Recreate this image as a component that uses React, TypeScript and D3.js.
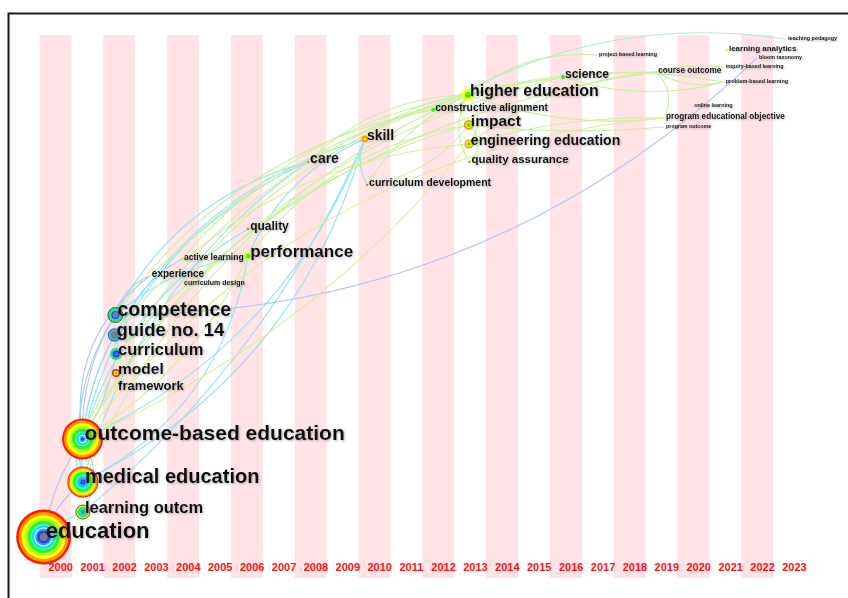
import React from 'react';
import * as d3 from 'd3';

const W = 848;
const H = 598;

const yearLabels = ['2000','2001','2002','2003','2004','2005','2006','2007','2008','2009','2010','2011','2012','2013','2014','2015','2016','2017','2018','2019','2020','2021','2022','2023'];

const nodeNames = [
  'education','learning outcm','medical education','outcome-based education','framework','model','curriculum','guide no. 14','competence',
  'experience','curriculum design','active learning','performance','quality','care','skill','curriculum development',
  'constructive alignment','higher education','impact','engineering education','quality assurance','science','project-based learning',
  'course outcome','program educational objective','program outcome','online learning','learning analytics','inquiry-based learning',
  'problem-based learning','bloom taxonomy','teaching pedagogy'
];
// first-appearance position on the time axis (fractional year inside its column)
const nodeYear = [
  2000.13, 2001.36, 2001.36, 2001.35, 2002.4, 2002.4, 2002.4, 2002.35, 2002.38,
  2003.46, 2004.47, 2004.47, 2006.54, 2006.54, 2008.42, 2010.2, 2010.27,
  2012.34, 2013.43, 2013.46, 2013.46, 2013.48, 2016.41, 2017.48,
  2019.33, 2019.58, 2019.58, 2020.46, 2021.55, 2021.45,
  2021.45, 2022.49, 2023.4
];
// vertical position (0 = bottom, 1 = top)
const nodeLevel = [
  0.0755, 0.1215, 0.1768, 0.256, 0.348, 0.3775, 0.4125, 0.4475, 0.4843,
  0.556, 0.5414, 0.5875, 0.593, 0.6427, 0.766, 0.8085, 0.7238,
  0.8625, 0.8895, 0.8343, 0.7993, 0.766, 0.9227, 0.9632,
  0.9319, 0.8471, 0.8306, 0.8692, 0.9724, 0.9411,
  0.9134, 0.9576, 0.9926
];
const nodeFont = [
  22, 16.5, 20, 21, 13, 15.5, 16.5, 18.5, 19.5,
  10, 7, 8.5, 17, 12, 14, 14, 10.5,
  10.3, 16, 15.5, 14, 11.5, 12, 5.4,
  8.2, 8.2, 5.3, 5.4, 8, 5.4,
  5.5, 5.4, 5.4
];
// citation-ring thickness per time slice, from centre outwards
const nodeRings = [
  'gray:4 blue:2.5 lblue:2 white:1 cyan:2 aqua:1.5 green:3 lime:3 yellow:3 orange:3 red:2.5',
  'gray:2 cyan:1.5 green:2 yellow:1.5 edge',
  'gray:1 blue:1.5 lblue:1.5 cyan:2 aqua:1.5 green:2.5 lime:1.5 yellow:1.5 orange:1.5 red:1',
  'blue:1.5 lblue:1.5 white:1 cyan:2 aqua:1.5 green:3 lime:2.5 yellow:3 orange:2.5 red:2',
  'yellow:1.5',
  'green:1.5 yellow:1 red:1.5',
  'purple:2 blue:1.5 cyan:1 green:1.5',
  'gray:3.5 lblue:1.2 cyan:1.5 edge',
  'gray:3 blue:1 cyan:1.5 green:2 edge',
  '',
  '',
  'lime:1.2',
  'green:2 lime:1 yellow:1',
  'olive:1.4',
  'olive:1.2',
  'yellow:1.5 orange:2',
  'olive:1.2',
  'green:2',
  'green:3 yellow:3',
  'green:2 yellow:1 orange:2',
  'green:2 yellow:1 orange:1.5',
  'olive:1.2',
  'green:2',
  '',
  '',
  '',
  '',
  '',
  'yellow:1.5',
  '',
  '',
  '',
  ''
];

const ringColors: Record<string, string> = {
  gray: '#7d7d7d', purple: '#6a5acd', blue: '#1f3fff', lblue: '#3fa0ff', white: '#eafff8', cyan: '#00e0ff',
  aqua: '#40ffb0', green: '#30ee30', lime: '#a8ff20', yellow: '#ffff00', orange: '#ff9900', red: '#ff1a00', olive: '#b09a20'
};

const linkColors: Record<string, string> = {
  blue: '#a8c6f6', cyan: '#8fe3f2', green: '#c9f0a0', aqua: '#a6f0cc', yg: '#d8ef98'
};

// co-occurrence links: [source, target, colour slice, bend]
const links: [string, string, string, number][] = [
  ['education', 'outcome-based education', 'blue', -0.12],
  ['education', 'medical education', 'blue', -0.15],
  ['education', 'learning outcm', 'cyan', -0.1],
  ['outcome-based education', 'competence', 'blue', -0.15],
  ['outcome-based education', 'guide no. 14', 'blue', -0.1],
  ['medical education', 'competence', 'blue', -0.2],
  ['medical education', 'guide no. 14', 'cyan', -0.15],
  ['outcome-based education', 'curriculum', 'blue', 0.1],
  ['medical education', 'outcome-based education', 'blue', -0.3],
  ['learning outcm', 'outcome-based education', 'cyan', 0.3],
  ['outcome-based education', 'experience', 'blue', -0.3],
  ['competence', 'experience', 'blue', -0.25],
  ['outcome-based education', 'care', 'cyan', -0.25],
  ['medical education', 'care', 'cyan', -0.18],
  ['outcome-based education', 'skill', 'cyan', 0.2],
  ['medical education', 'skill', 'cyan', 0.22],
  ['learning outcm', 'skill', 'cyan', 0.12],
  ['guide no. 14', 'skill', 'cyan', -0.2],
  ['competence', 'performance', 'cyan', -0.15],
  ['outcome-based education', 'performance', 'yg', 0.15],
  ['competence', 'care', 'cyan', -0.22],
  ['outcome-based education', 'quality', 'cyan', -0.2],
  ['curriculum', 'active learning', 'cyan', -0.25],
  ['skill', 'curriculum development', 'cyan', 0.25],
  ['performance', 'skill', 'cyan', -0.2],
  ['medical education', 'performance', 'cyan', 0.25],
  ['competence', 'bloom taxonomy', 'blue', 0.2],
  ['outcome-based education', 'higher education', 'green', -0.25],
  ['outcome-based education', 'impact', 'green', -0.22],
  ['outcome-based education', 'engineering education', 'yg', 0.12],
  ['medical education', 'higher education', 'green', -0.2],
  ['competence', 'constructive alignment', 'green', -0.2],
  ['outcome-based education', 'science', 'green', -0.22],
  ['curriculum', 'course outcome', 'green', -0.18],
  ['higher education', 'impact', 'green', 0.5],
  ['higher education', 'engineering education', 'green', -0.4],
  ['higher education', 'quality assurance', 'green', 0.3],
  ['higher education', 'curriculum development', 'green', 0.15],
  ['impact', 'curriculum development', 'green', -0.2],
  ['engineering education', 'course outcome', 'green', -0.15],
  ['course outcome', 'program educational objective', 'green', -0.35],
  ['higher education', 'problem-based learning', 'green', -0.12],
  ['science', 'problem-based learning', 'green', 0.15],
  ['higher education', 'project-based learning', 'green', -0.2],
  ['constructive alignment', 'teaching pedagogy', 'aqua', -0.18],
  ['higher education', 'program educational objective', 'green', 0.12],
  ['engineering education', 'program educational objective', 'green', -0.08],
  ['impact', 'program outcome', 'green', 0.05],
  ['care', 'higher education', 'green', -0.2],
  ['skill', 'higher education', 'green', -0.15],
  ['performance', 'impact', 'green', -0.2],
  ['guide no. 14', 'engineering education', 'yg', -0.22],
  ['outcome-based education', 'program educational objective', 'yg', -0.22],
  ['course outcome', 'inquiry-based learning', 'green', -0.1],
  ['course outcome', 'problem-based learning', 'green', 0.2],
  ['impact', 'quality assurance', 'green', -0.5],
  ['constructive alignment', 'higher education', 'green', 0.3],
  ['experience', 'course outcome', 'green', -0.2],
  ['active learning', 'higher education', 'green', -0.18],
  ['curriculum design', 'science', 'yg', -0.2]
];

const x = d3.scaleLinear().domain([2000, 2024]).range([39.5, 805.1]);
const y = d3.scaleLinear().domain([0, 1]).range([578, 35]);

function parseRings(spec: string) {
  const toks = spec.split(' ').filter(Boolean);
  const edge = toks.includes('edge');
  const rings = toks.filter(t => t !== 'edge').map(t => {
    const [c, v] = t.split(':');
    return { color: ringColors[c], w: +v };
  });
  return { rings, edge };
}

function linkPath(sx: number, sy: number, tx: number, ty: number, k: number) {
  const dx = tx - sx, dy = ty - sy;
  const L = Math.sqrt(dx * dx + dy * dy) || 1;
  const nx = -dy / L, ny = dx / L;
  const cx = (sx + tx) / 2 + k * L * nx;
  const cy = (sy + ty) / 2 + k * L * ny;
  const p = d3.path();
  p.moveTo(sx, sy);
  p.quadraticCurveTo(cx, cy, tx, ty);
  return p.toString();
}

export default function App() {
  const idx: Record<string, number> = {};
  nodeNames.forEach((n, i) => (idx[n] = i));
  const px = (i: number) => x(nodeYear[i]);
  const py = (i: number) => y(nodeLevel[i]);
  const font = "'Liberation Sans', Arial, Helvetica, sans-serif";

  return (
    <svg width={W} height={H} style={{ position: 'absolute', left: 0, top: 0, background: '#fff' }}>
      <defs>
        <filter id="sh" x="-10%" y="-30%" width="130%" height="180%">
          <feDropShadow dx="1" dy="1" stdDeviation="0.8" floodColor="#666" floodOpacity="0.5" />
        </filter>
      </defs>
      <rect x={0} y={0} width={W} height={H} fill="#fff" />
      {yearLabels.map((yl, i) =>
        i % 2 === 0 ? (
          <rect key={'s' + yl} x={x(+yl)} y={y(1)} width={x(+yl + 1) - x(+yl)} height={y(0) - y(1)} fill="#ffe3e7" />
        ) : null
      )}
      {yearLabels.map(yl => (
        <text key={'y' + yl} x={x(+yl) + 9} y={y(0) - 7.5} fontFamily={font} fontWeight="bold" fontSize={11} fill="#ff1010">
          {yl}
        </text>
      ))}
      <g fill="none" strokeWidth={1.1}>
        {links.map(([s, t, c, k], i) => (
          <path key={'l' + i} d={linkPath(px(idx[s]), py(idx[s]), px(idx[t]), py(idx[t]), k)} stroke={linkColors[c]} />
        ))}
      </g>
      <g>
        {nodeNames.map((n, i) => {
          const { rings, edge } = parseRings(nodeRings[i]);
          if (!rings.length) return null;
          const radii: number[] = [];
          let acc = 0;
          rings.forEach(r => { acc += r.w; radii.push(acc); });
          return (
            <g key={'n' + i}>
              {rings.map((r, j) => j).reverse().map(j => (
                <circle key={j} cx={px(i)} cy={py(i)} r={radii[j]} fill={rings[j].color}
                  stroke={edge && j === rings.length - 1 ? '#444' : 'none'} strokeWidth={0.9} />
              ))}
            </g>
          );
        })}
      </g>
      <g filter="url(#sh)">
        {nodeNames.map((n, i) => (
          <text key={'t' + i} x={px(i) + 2} y={py(i) + 1} fontFamily={font} fontWeight="bold" fontSize={nodeFont[i]} fill="#111">
            {n}
          </text>
        ))}
      </g>
      <rect x={8.5} y={13.5} width={900} height={700} fill="none" stroke="#1a1a1a" strokeWidth={2} />
    </svg>
  );
}
